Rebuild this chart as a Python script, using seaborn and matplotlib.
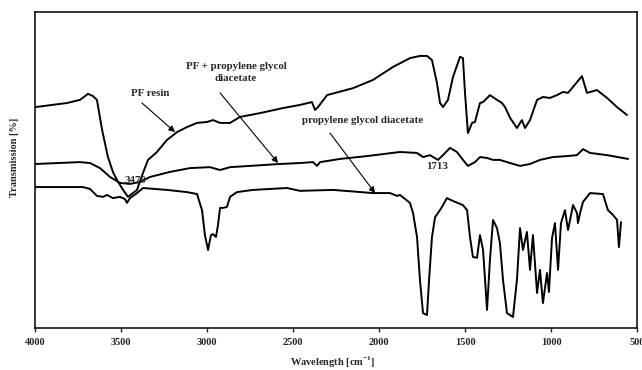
import numpy as np
import pandas as pd
import matplotlib
matplotlib.use("Agg")
import matplotlib.pyplot as plt
import seaborn as sns

# ---- data ----
pf_wn = [4000, 3814, 3738, 3692, 3663, 3640, 3610, 3576, 3547, 3523, 3488, 3459,
         3407, 3372, 3343, 3291, 3233, 3174, 3116, 3058, 3000, 2965, 2924, 2866,
         2808, 2692, 2558, 2459, 2390, 2372, 2355, 2302, 2151, 2035, 1919, 1820,
         1762, 1721, 1692, 1663, 1645, 1628, 1599, 1570, 1529, 1512, 1500, 1483,
         1459, 1442, 1413, 1395, 1355, 1314, 1285, 1267, 1238, 1198, 1169, 1151,
         1122, 1081, 1047, 1006, 965, 930, 901, 872, 820, 791, 733, 674, 616, 558]
pf_t = [69.9, 71.2, 72.2, 74.1, 73.4, 72.2, 62.7, 54.1, 49.4, 46.8, 43.7, 41.5,
        43.7, 49.1, 53.2, 55.7, 59.5, 62.0, 63.6, 64.9, 65.2, 65.8, 64.9, 64.9,
        66.8, 68.0, 69.6, 70.6, 71.5, 69.0, 69.9, 73.7, 75.9, 78.5, 82.6, 85.4,
        86.1, 86.1, 84.8, 77.5, 71.2, 69.9, 72.2, 79.4, 85.8, 85.4, 74.4, 61.7,
        64.9, 65.2, 71.2, 71.5, 73.7, 72.2, 71.2, 69.9, 66.5, 63.3, 65.8, 63.3,
        65.8, 72.2, 73.1, 72.8, 73.7, 74.7, 74.4, 76.3, 79.7, 74.4, 75.3, 72.8, 69.9, 67.4]

mix_wn = [4000, 3738, 3680, 3622, 3564, 3506, 3448, 3390, 3331, 3215, 3099, 2983,
          2924, 2866, 2750, 2576, 2459, 2384, 2360, 2343, 2227, 2070, 1878, 1779,
          1744, 1703, 1686, 1657, 1628, 1587, 1547, 1512, 1483, 1442, 1413, 1372,
          1337, 1297, 1238, 1180, 1122, 1064, 988, 907, 849, 814, 773, 674, 552]
mix_t = [51.9, 52.5, 52.2, 50.6, 47.8, 45.9, 45.6, 46.2, 47.8, 49.4, 50.6, 50.9,
         50.0, 50.9, 51.3, 51.9, 52.2, 52.5, 51.3, 52.5, 53.5, 54.4, 55.7, 55.4,
         54.1, 54.7, 54.1, 53.2, 54.7, 57.0, 55.7, 53.2, 51.3, 52.5, 54.1, 53.8,
         53.2, 53.2, 52.2, 51.3, 51.9, 53.2, 54.1, 54.4, 54.7, 56.6, 55.4, 54.7, 53.5]

pgda_wn = [4000, 3721, 3680, 3640, 3605, 3581, 3547, 3506, 3477, 3465, 3448, 3407,
           3372, 3233, 3116, 3058, 3029, 3012, 2994, 2977, 2965, 2948, 2936, 2924,
           2907, 2884, 2866, 2826, 2733, 2535, 2459, 2267, 2035, 1936, 1895, 1878,
           1820, 1802, 1779, 1762, 1744, 1721, 1709, 1692, 1674, 1657, 1634, 1605,
           1570, 1512, 1488, 1471, 1454, 1430, 1413, 1395, 1372, 1355, 1337, 1314,
           1297, 1279, 1256, 1221, 1198, 1180, 1163, 1140, 1122, 1105, 1081, 1064,
           1047, 1023, 1012, 994, 977, 959, 942, 919, 901, 872, 849, 843, 831, 814,
           773, 698, 669, 640, 616, 605, 593]
pgda_t = [44.6, 44.6, 44.0, 41.8, 41.5, 42.1, 41.1, 41.5, 40.8, 39.6, 41.1, 42.7,
          44.3, 43.7, 43.0, 42.4, 37.3, 29.4, 24.7, 29.4, 29.7, 28.8, 32.6, 38.0,
          38.0, 38.3, 41.5, 43.0, 43.7, 44.3, 43.4, 43.7, 42.7, 42.7, 41.8, 42.1,
          39.6, 36.4, 28.8, 15.2, 4.7, 4.1, 15.2, 28.8, 35.1, 36.4, 38.3, 41.1,
          40.2, 38.9, 37.3, 28.8, 22.5, 22.2, 29.4, 24.7, 5.7, 21.5, 34.2, 31.6,
          26.9, 15.2, 4.7, 3.5, 15.2, 31.6, 24.7, 30.4, 18.4, 29.4, 11.1, 18.4,
          7.9, 17.4, 11.4, 28.5, 33.2, 18.4, 33.2, 37.3, 31.0, 38.9, 36.4, 33.2, 36.4, 39.9,
          42.7, 42.4, 37.3, 35.8, 34.2, 25.6, 33.5]

xticks = [4000, 3500, 3000, 2500, 2000, 1500, 1000, 500]

# ---- style ----
sns.set_style("ticks")
plt.rcParams["font.family"] = ["Liberation Serif", "DejaVu Serif"]
plt.rcParams["font.weight"] = "bold"
plt.rcParams["mathtext.fontset"] = "custom"
plt.rcParams["mathtext.rm"] = "Liberation Serif:bold"
plt.rcParams["mathtext.bf"] = "Liberation Serif:bold"

fig = plt.figure(figsize=(6.42, 3.70), dpi=100)
ax = fig.add_axes([35 / 642, 42 / 370, 602 / 642, 316 / 370])

for wn, t in [(pf_wn, pf_t), (mix_wn, mix_t), (pgda_wn, pgda_t)]:
    df = pd.DataFrame({"wn": wn, "t": t})
    sns.lineplot(data=df, x="wn", y="t", ax=ax, color="black", lw=1.4,
                 sort=False, estimator=None)

ax.set_xlim(4000, 500)
ax.set_ylim(0, 100)
ax.set_xticks(xticks)
ax.set_xticklabels([str(v) for v in xticks], fontsize=7.5, fontweight="bold")
ax.set_yticks([])
ax.set_xlabel("")
ax.set_ylabel("")
ax.tick_params(axis="x", direction="out", length=3, width=1, pad=4)
for s in ax.spines.values():
    s.set_visible(True)
    s.set_linewidth(1.1)
    s.set_color("black")

fs = 7.8
arrow = dict(arrowstyle="-|>", color="black", lw=0.8, mutation_scale=9,
             shrinkA=0, shrinkB=0)

ax.text(3331, 74.3, "PF resin", fontsize=fs, fontweight="bold", ha="center", va="center")
ax.annotate("", xy=(3186, 62.0), xytext=(3378, 71.2), arrowprops=arrow)

ax.text(2831, 80.9, "PF + propylene glycol\ndiacetate", fontsize=fs, fontweight="bold",
        ha="center", va="center", linespacing=1.4)
ax.annotate("", xy=(2587, 52.2), xytext=(2924, 74.4), arrowprops=arrow)

ax.text(2093, 65.8, "propylene glycol diacetate", fontsize=fs, fontweight="bold",
        ha="center", va="center")
ax.annotate("", xy=(2023, 42.7), xytext=(2285, 61.7), arrowprops=arrow)

ax.text(3419, 46.8, "3470", fontsize=fs, fontweight="bold", ha="center", va="center")
ax.text(1663, 51.0, "1713", fontsize=fs, fontweight="bold", ha="center", va="center")

fig.text(15 / 642, 1 - 157 / 370, "Transmission [%]", rotation=90, fontsize=7.5,
         fontweight="bold", ha="center", va="center")
fig.text(333 / 642, 1 - 362 / 370, r"Wavelength [cm$^{\mathbf{-1}}$]", fontsize=7.5,
         fontweight="bold", ha="center", va="center")

fig.savefig("out.png", dpi=100)
